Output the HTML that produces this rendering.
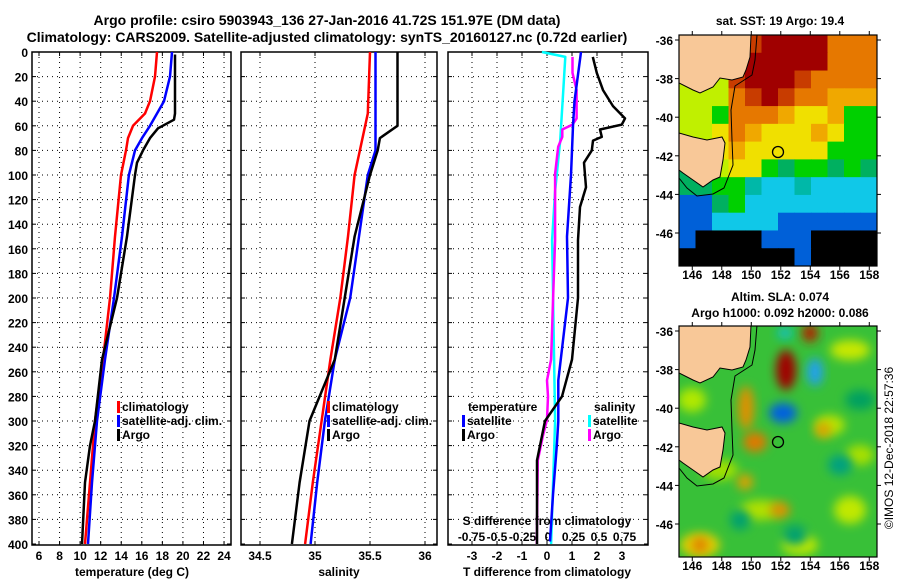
<!DOCTYPE html>
<html><head><meta charset="utf-8">
<style>
html,body{margin:0;padding:0;background:#fff;}
svg{display:block;font-family:"Liberation Sans",Arial,sans-serif;font-weight:bold;}
</style></head>
<body>
<svg id="fig" width="900" height="580" viewBox="0 0 900 580">
<defs>
<clipPath id="clipTop"><rect x="679" y="35" width="198" height="231"/></clipPath>
<clipPath id="clipBot"><rect x="679" y="326" width="198" height="231"/></clipPath>
<filter id="blur" x="-50%" y="-50%" width="200%" height="200%"><feGaussianBlur stdDeviation="5"/></filter>
</defs>
<text x="327" y="25" font-size="14" text-anchor="middle">Argo profile: csiro 5903943_136 27-Jan-2016 41.72S 151.97E (DM data)</text>
<text x="327" y="42" font-size="14" text-anchor="middle">Climatology: CARS2009. Satellite-adjusted climatology: synTS_20160127.nc (0.72d earlier)</text>
<g id="panels"></g>
<g id="maps"></g>
</svg>
<script>
// ---- data ----
const tempClimDepth = [0,20,40,50,60,70,80,100,150,200,250,300,350,400];
const tempClim = [17.48,17.28,16.8,16.31,15.14,14.66,14.46,13.98,13.39,12.91,12.23,11.45,10.96,10.47];
const tempSatDepth = [0,20,40,60,70,80,100,150,200,250,300,350,400];
const tempSat = [18.94,18.74,18.16,16.8,16.02,15.34,14.75,14.07,13.3,12.42,11.64,11.16,10.77];
const tempArgoDepth = [2,50,55,62,70,80,90,100,150,200,250,300,320,350,400];
const tempArgo = [19.23,19.23,19.13,17.58,16.8,16.12,15.53,15.34,14.56,13.59,12.13,11.45,10.96,10.47,10.18];

const salClimDepth = [0,50,100,150,200,250,300,350,400];
const salClim = [35.5,35.48,35.36,35.3,35.23,35.14,35.06,34.98,34.91];
const salSatDepth = [0,80,100,150,200,250,300,350,400];
const salSat = [35.55,35.55,35.48,35.4,35.32,35.18,35.09,35.02,34.96];
const salArgoDepth = [0,60,70,80,100,150,200,250,300,350,400];
const salArgo = [35.75,35.75,35.59,35.57,35.5,35.36,35.27,35.18,34.95,34.86,34.79];

const dTSatDepth = [0,40,60,80,100,150,200,267,300,320,360,398];
const dTSat = [1.36,1.1,1.04,1.0,0.96,0.8,0.84,0.45,0.45,0.39,0.24,0.12];
const dTArgoDepth = [4,17,31,44,54,59,63,69,72,80,90,110,126,153,200,250,280,300,332,400];
const dTArgo = [1.83,1.99,2.24,2.64,3.12,2.99,2.12,2.19,1.84,1.79,1.48,1.56,1.32,1.24,1.24,1.0,0.6,-0.08,-0.4,-0.4];
const dSSatDepth = [0,4,31,72,113,153,200,300,400];
const dSSat = [-0.06,0.17,0.15,0.12,0.07,0.04,0.05,0.07,0.03];
const dSArgoDepth = [4,17,31,44,54,59,63,69,77,99,126,153,200,250,267,280,299,312,332,400];
const dSArgo = [0.24,0.24,0.28,0.28,0.28,0.24,0.14,0.14,0.1,0.07,0.07,0.07,0.05,0.03,-0.01,0,-0.01,-0.05,-0.1,-0.11];

const depthTicks = [0,20,40,60,80,100,120,140,160,180,200,220,240,260,280,300,320,340,360,380,400];
const tempTicks = [6,8,10,12,14,16,18,20,22,24];
const salTicks = [34.5,35,35.5,36];
const dTTicks = [-3,-2,-1,0,1,2,3];
const dSTicks = [-0.75,-0.5,-0.25,0,0.25,0.5,0.75];
const dSTickLabels = ["-0.75","-0.5","-0.25","0","0.25","0.5","0.75"];

// ---- scales ----
const NS="http://www.w3.org/2000/svg";
const yD = d => 52 + d*1.23;
const xT = t => 39 + (t-6)*10.28;
const xS = s => 315 + (s-35)*110;
const xDT = t => 547 + t*25;
const xDS = s => 548 + s*102;
const P = document.getElementById('panels');
function mk(tag, attrs, parent){const e=document.createElementNS(NS,tag);for(const k in attrs)e.setAttribute(k,attrs[k]);(parent||P).appendChild(e);return e;}
function txt(x,y,s,size,anchor,parent){const e=mk('text',{x:x,y:y,'font-size':size,'text-anchor':anchor||'middle'},parent);e.textContent=s;return e;}

const panels=[{x0:32,x1:231,name:'temperature'},{x0:241,x1:437,name:'salinity'},{x0:448,x1:648,name:'difference'}];
function grid(p, xs, sx){
  const g=mk('g',{});
  
  
  xs.forEach(v=>{const x=sx(v);if(x>p.x0+1&&x<p.x1-1)mk('line',{x1:x,x2:x,y1:52,y2:545,stroke:'#000','stroke-width':1,'stroke-dasharray':'1,4'},g);
    mk('line',{x1:x,x2:x,y1:545,y2:541,stroke:'#000'},g);mk('line',{x1:x,x2:x,y1:52,y2:56,stroke:'#000'},g);});
  depthTicks.forEach(d=>{const y=yD(d);if(d>0&&d<400)mk('line',{x1:p.x0,x2:p.x1,y1:y,y2:y,stroke:'#000','stroke-width':1,'stroke-dasharray':'1,4'},g);
    mk('line',{x1:p.x0,x2:p.x0+4,y1:y,y2:y,stroke:'#000'},g);mk('line',{x1:p.x1-4,x2:p.x1,y1:y,y2:y,stroke:'#000'},g);});
  const r=mk('rect',{x:p.x0,y:52,width:p.x1-p.x0,height:493,fill:'none',stroke:'#000','stroke-width':1.5});
  
  
}
grid(panels[0],tempTicks,xT);
grid(panels[1],salTicks,xS);
grid(panels[2],dTTicks,xDT);

depthTicks.forEach(d=>{const t=txt(28,yD(d)+5,String(d),12,'end');
  
  });
tempTicks.forEach(v=>{const t=txt(xT(v),560,String(v),12);
  
  });
salTicks.forEach(v=>{const t=txt(xS(v),560,String(v),12);
  
  });
dTTicks.forEach(v=>{const t=txt(xDT(v),560,String(v),12);
  
  });
dSTicks.forEach((v,i)=>{const t=txt(xDS(v),541,dSTickLabels[i],12);
  
  });
let t;
t=txt(132,576,'temperature (deg C)',12);
t=txt(339,576,'salinity',12);
t=txt(547,576,'T difference from climatology',12);
t=txt(547,525,'S difference from climatology',12);

function line(depths, vals, sx, color, name){
  const pts=depths.map((d,i)=>sx(vals[i]).toFixed(1)+','+yD(d).toFixed(1)).join(' ');
  const l=mk('polyline',{points:pts,fill:'none',stroke:color,'stroke-width':2.5,'stroke-linejoin':'round'});
  
  
}
line(tempClimDepth,tempClim,xT,'#ff0000','temperature-climatology-line');
line(tempSatDepth,tempSat,xT,'#0000ff','temperature-satellite-line');
line(tempArgoDepth,tempArgo,xT,'#000000','temperature-argo-line');
line(salClimDepth,salClim,xS,'#ff0000','salinity-climatology-line');
line(salSatDepth,salSat,xS,'#0000ff','salinity-satellite-line');
line(salArgoDepth,salArgo,xS,'#000000','salinity-argo-line');
line(dSSatDepth,dSSat,xDS,'#00ffff','s-diff-satellite-line');
line(dSArgoDepth,dSArgo,xDS,'#ff00ff','s-diff-argo-line');
line(dTSatDepth,dTSat,xDT,'#0000ff','t-diff-satellite-line');
line(dTArgoDepth,dTArgo,xDT,'#000000','t-diff-argo-line');

function legend(x,y,color,label,name){
  const g=mk('g',{});
  
  
  mk('rect',{x:x,y:y-10,width:3,height:12,fill:color},g);
  const tt=mk('text',{x:x+5,y:y,'font-size':12,'text-anchor':'start'},g);tt.textContent=label;
}
legend(117,411,'#ff0000','climatology','legend-climatology');
legend(117,425,'#0000ff','satellite-adj. clim.','legend-satellite-adj-clim');
legend(117,439,'#000000','Argo','legend-argo');
legend(327,411,'#ff0000','climatology','legend-sal-climatology');
legend(327,425,'#0000ff','satellite-adj. clim.','legend-sal-satellite-adj-clim');
legend(327,439,'#000000','Argo','legend-sal-argo');
t=txt(468,411,'temperature',12,'start');
legend(462,425,'#0000ff','satellite','legend-t-satellite');
legend(462,439,'#000000','Argo','legend-t-argo');
t=txt(594,411,'salinity',12,'start');
legend(588,425,'#00ffff','satellite','legend-s-satellite');
legend(588,439,'#ff00ff','Argo','legend-s-argo');

// ---- maps ----
const M=document.getElementById('maps');
const colors={R:'#a00000',r:'#c83c00',o:'#e67800',O:'#f0a800',y:'#f0e000',Y:'#c0f000',g:'#00d000',G:'#00b060',t:'#00b8a8',c:'#10c8e8',b:'#0060d8',k:'#000000',L:'#f8c898'};
const sstRows=["YYYYrRRRRooo","YYYYRRRRRooo","YYYrRRRroooo","YYYorRrooOOO","YYgoooOyyOgg","YYyoOyyyOygg","YgyOyyyyyggg","GgYyygGggGgG","GGggtcctcccc","bbGgcccccccc","bbccccbbbbbb","bkkkkbbbkkkk","kkkkkkkbkkkk"];
const gTop=mk('g',{'clip-path':'url(#clipTop)'},M);


const cw=198/12, ch=231/13;
sstRows.forEach((row,j)=>{[...row].forEach((c,i)=>{mk('rect',{x:679+i*cw,y:35+j*ch,width:cw+0.5,height:ch+0.5,fill:colors[c]},gTop);});});
const gBot=mk('g',{'clip-path':'url(#clipBot)'},M);


mk('rect',{x:679,y:326,width:198,height:231,fill:'#38c038'},gBot);
const blobs=[[692,400,14,12,'#b0e800'],[720,470,18,10,'#a0e000'],[850,350,20,10,'#c8e800'],[850,510,16,14,'#c0e800'],[700,545,20,12,'#e0d000'],[800,545,18,10,'#c0e800'],[830,425,15,10,'#b8e400'],[760,510,20,10,'#b0e000'],[860,455,14,10,'#a8e000'],
 [786,370,10,20,'#a00000'],[810,333,8,9,'#b02000'],[815,372,8,14,'#20a0f0'],[783,413,14,10,'#0060e0'],[746,408,8,22,'#e09000'],[755,442,12,10,'#e07800'],[745,482,8,8,'#e0a000'],[780,510,10,8,'#e09000'],[700,545,8,8,'#e08000'],[823,430,8,8,'#e0a000'],[840,465,12,10,'#00a080'],[740,520,10,10,'#00a070'],[795,535,12,10,'#00a070'],[860,400,15,10,'#00a060'],[712,345,15,8,'#00a070'],[785,333,8,6,'#10c0c0']];
blobs.forEach(b=>{mk('ellipse',{cx:b[0],cy:b[1],rx:b[2],ry:b[3],fill:b[4],filter:'url(#blur)'},gBot);});
function land(parent,dy){
  const g=mk('g',{transform:'translate(0,'+dy+')'},parent);
  mk('polyline',{points:'757,35 755,60 752,75 735,86 731,110 732,140 733,165 724,188 713,194 697,196 687,188 679,178',fill:'none',stroke:'#000','stroke-width':1},g);
  mk('polygon',{points:'679,35 751,35 750,57 746,70 743,77 732,80 720,78 713,87 700,93 693,90 679,83',fill:'#f8c898',stroke:'#000','stroke-width':1},g);
  mk('polygon',{points:'679,133 693,137 707,140 722,137 725,143 723,160 720,177 713,180 703,187 693,180 683,173 679,170',fill:'#f8c898',stroke:'#000','stroke-width':1},g);
  mk('circle',{cx:778,cy:152,r:5.5,fill:'none',stroke:'#000','stroke-width':1.3},g);
}
land(gTop,0); land(gBot,290);
[[35,275],[326,566]].forEach(([y0,ly])=>{
  const fr=mk('rect',{x:679,y:y0,width:198,height:231,fill:'none',stroke:'#000','stroke-width':1.2},M);
  
  
  [146,148,150,152,154,156,158].forEach(lon=>{const x=679+(lon-145.1)*14.75;
    mk('line',{x1:x,x2:x,y1:y0+231,y2:y0+235,stroke:'#000'},M);mk('line',{x1:x,x2:x,y1:y0,y2:y0-4,stroke:'#000'},M);
    const tl=txt(x,ly+4,String(lon),12,'middle',M);});
  [-36,-38,-40,-42,-44,-46].forEach(lat=>{
    const yy=y0+5+(-36-lat)*19.3;
    mk('line',{x1:675,x2:679,y1:yy,y2:yy,stroke:'#000'},M);mk('line',{x1:877,x2:881,y1:yy,y2:yy,stroke:'#000'},M);
    const tl=txt(673,yy+5,String(lat),12,'end',M);});
});
t=txt(780,25,'sat. SST: 19 Argo: 19.4',12,'middle',M);
t=txt(780,301,'Altim. SLA: 0.074',12,'middle',M);
t=txt(780,317,'Argo h1000: 0.092 h2000: 0.086',12,'middle',M);
t=txt(0,0,'©IMOS 12-Dec-2018 22:57:36',12,'middle',M);t.setAttribute('transform','translate(893,448) rotate(-90)');t.setAttribute('font-weight','normal');

</script>
</body></html>
